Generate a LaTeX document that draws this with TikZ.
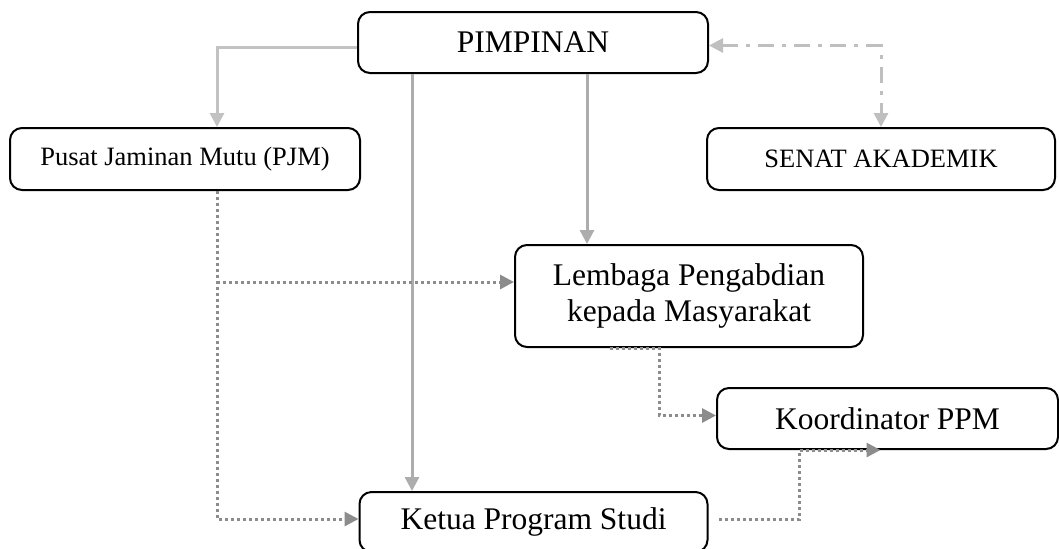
\documentclass[tikz,border=0pt]{standalone}
\usepackage{fontspec}
\setmainfont{Liberation Serif}
\usetikzlibrary{calc,arrows.meta,positioning}
\tikzset{grey1/.style={black!28},grey2/.style={black!45}}

\begin{document}
\begin{tikzpicture}[x=0.5pt,y=-0.5pt]

\tikzset{unitbox/.style={draw=black,line width=1pt,rounded corners=6pt,fill=white,align=center,inner sep=0pt,font=\fontsize{15.75}{18}\selectfont},
smallbox/.style={unitbox,font=\fontsize{13.25}{16}\selectfont},
solidline/.style={grey1,line width=1.5pt,-{Triangle[length=7pt,width=7pt]}},
dotline/.style={grey2,line width=1.5pt,dash pattern=on 1.5pt off 1.5pt,-{Triangle[length=7pt,width=7pt]}},
dashdotline/.style={black!25,line width=1.5pt,dash pattern=on 8pt off 4pt on 2pt off 4pt,{Triangle[length=7pt,width=7pt]}-{Triangle[length=7pt,width=7pt]}}}

\useasboundingbox (0,0) rectangle (1059,548);

% Boxes
\node[unitbox,minimum width=175pt,minimum height=30.5pt] (pim) at (533,42.5) {PIMPINAN};
\node[smallbox,minimum width=175pt,minimum height=31pt] (pjm) at (185,159) {Pusat Jaminan Mutu (PJM)};
\node[smallbox,minimum width=174pt,minimum height=31pt] (senat) at (881,159) {SENAT AKADEMIK};
\node[unitbox,minimum width=174pt,minimum height=51pt] (lpm) at (689,296) {Lembaga Pengabdian\\kepada Masyarakat};
\node[unitbox,minimum width=170.5pt,minimum height=30.5pt] (kp) at (887.5,418.5) {Koordinator PPM};
\node[unitbox,minimum width=174pt,minimum height=30pt] (ketua) at (533.5,522) {Ketua Program Studi};

% Helper points
\coordinate (c1) at (412,0);
\coordinate (c2) at (587,0);
\coordinate (d1) at (217,0);
\coordinate (d2) at (217,282);

% Solid lines from the top
\draw[solidline,black!24] ($(pim.west)+(0,5)$) -| (pjm.north -| d1);
\draw[solidline,black!32] (pim.south -| c1) -- (ketua.north -| c1);
\draw[solidline,black!32] (pim.south -| c2) -- (lpm.north -| c2);

% Senat
\draw[dashdotline] ($(pim.east)+(0,3)$) -| (senat.north);

% Dotted lines
\draw[dotline] (pjm.south -| d1) |- ($(ketua.west)+(0,-3)$);
\draw[dotline] (d2) -- (d2 -| lpm.west);
\draw[dotline] ($(lpm.south)+(-79,0)$) -- ++(49,0) |- ($(kp.west)+(0,-3)$);
\draw[dotline] ($(ketua.east)+(10,-3)$) -| ($(kp.south)+(-88,0)$) -- ($(kp.south)+(-7,0)$);

\end{tikzpicture}
\end{document}
